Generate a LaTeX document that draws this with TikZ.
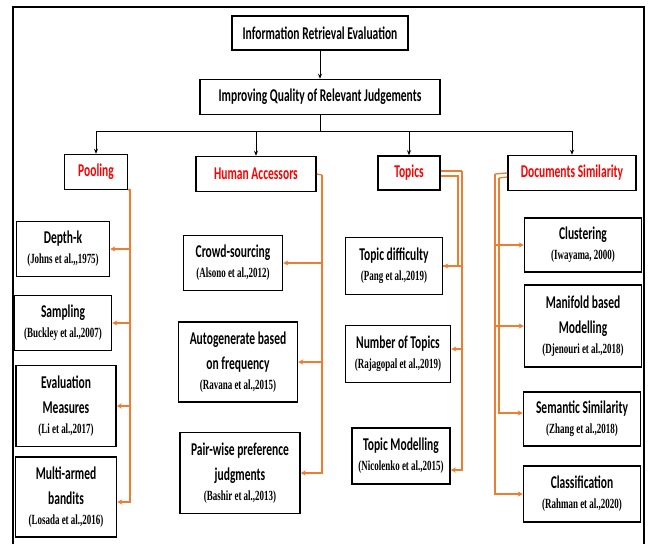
\documentclass[tikz,border=0pt]{standalone}
\usepackage{fontspec}
\setmainfont[FakeStretch=0.64]{Carlito}
\newfontfamily\srcfont[FakeStretch=0.64]{Liberation Serif}
\usetikzlibrary{arrows.meta}
\definecolor{brorange}{HTML}{ED7D31}
\definecolor{catred}{HTML}{FF0000}
\newcommand{\src}[1]{{\srcfont\bfseries\fontsize{14}{15}\selectfont #1}}

\begin{document}
\begin{tikzpicture}[x=1pt,y=-1pt,
    box/.style={draw,line width=1.5pt,align=center,inner sep=2pt,
      font=\bfseries\fontsize{18}{25}\selectfont},
    catbox/.style={box,text=catred},
    blkarrow/.style={line width=0.8pt,-{Stealth[length=5pt,width=4pt]}},
    orarrow/.style={draw=brorange,line width=1.3pt,-{Stealth[length=5pt,width=5pt]}},
    orline/.style={draw=brorange,line width=1.3pt}]
\useasboundingbox (0,0) rectangle (648,544);
\draw[line width=1.5pt] (13,544) -- (13,7) -- (644,7) -- (644,544); % frame
		\node[box,minimum width=176,minimum height=34] (ire) at (320,33) {Information Retrieval Evaluation}; % top
\node[box,minimum width=240,minimum height=35] (iqrj) at (320,97) {Improving Quality of Relevant Judgements}; % second
\node[catbox,minimum width=63,minimum height=35] (pool) at (96,172) {Pooling}; % cat.1
\node[catbox,minimum width=120,minimum height=35] (human) at (256,174) {Human Accessors}; % cat.2
\node[catbox,minimum width=62,minimum height=34] (topics) at (409,173) {Topics}; % cat.3
\node[catbox,minimum width=128,minimum height=35] (docs) at (572,173) {Documents Similarity}; % cat.4
\node[box,minimum width=93,minimum height=55] (depth) at (63,249) {Depth-k\\[-5pt]\src{(Johns et al.,,1975)}}; % pool.1
\node[box,minimum width=97,minimum height=55] (sampl) at (63,323) {Sampling\\[-5pt]\src{(Buckley et al.,2007)}}; % pool.2
\node[box,minimum width=100,minimum height=81] (evalm) at (66,406) {Evaluation\\Measures\\[-5pt]\src{(Li et al.,2017)}}; % pool.3
\node[box,minimum width=101,minimum height=80] (bandit) at (66,497) {Multi-armed\\bandits\\[-5pt]\src{(Losada et al.,2016)}}; % pool.4
\node[box,minimum width=99,minimum height=55] (crowd) at (233,263) {Crowd-sourcing\\[-5pt]\src{(Alsono et al.,2012)}}; % human.1
\node[box,minimum width=119,minimum height=80] (autogen) at (238,362) {Autogenerate based\\on frequency\\[-5pt]\src{(Ravana et al.,2015)}}; % human.2
\node[box,minimum width=120,minimum height=81] (pairw) at (240,473) {Pair-wise preference\\judgments\\[-5pt]\src{(Bashir et al.,2013)}}; % human.3
\node[box,minimum width=97,minimum height=57] (tdiff) at (394,266) {Topic difficulty\\[-5pt]\src{(Pang et al.,2019)}}; % topics.1
\node[box,minimum width=105,minimum height=57] (tnum) at (398,354) {Number of Topics\\[-5pt]\src{(Rajagopal et al.,2019)}}; % topics.2
\node[box,minimum width=98,minimum height=56] (tmod) at (401,456) {Topic Modelling\\[-5pt]\src{(Nicolenko et al.,2015)}}; % topics.3
\node[box,minimum width=117,minimum height=54] (clust) at (583,245) {Clustering\\[-5pt]\src{(Iwayama, 2000)}}; % docs.1
\node[box,minimum width=117,minimum height=82] (manif) at (583,326) {Manifold based\\Modelling\\[-5pt]\src{(Djenouri et al.,2018)}}; % docs.2
\node[box,minimum width=117,minimum height=54] (seman) at (582,419) {Semantic Similarity\\[-5pt]\src{(Zhang et al.,2018)}}; % docs.3
\node[box,minimum width=117,minimum height=56] (classif) at (582,494) {Classification\\[-5pt]\src{(Rahman et al.,2020)}}; % docs.4
\draw[blkarrow] (ire) -- (iqrj); % top.link
\coordinate (split) at (320,131); % bus
\draw[line width=0.8pt] (iqrj) -- (split); % bus
\draw[blkarrow] (split) -| (pool); % bus
\draw[blkarrow] (split) -| (human); % bus
\draw[blkarrow] (split) -| (topics); % bus
\draw[blkarrow] (split) -| (docs); % bus
\coordinate (pbend) at (130,189); % pool.trunk
\draw[orline] (pool.south east) -- (pbend); % pool.trunk
\draw[orarrow] (pbend) |- (depth.east); % pool.trunk
\draw[orarrow] (pbend) |- (sampl.east); % pool.trunk
\draw[orarrow] (pbend) |- (evalm.east); % pool.trunk
\draw[orarrow] (pbend) |- ([yshift=-5pt]bandit.east); % pool.trunk
\coordinate (hbend) at (322,175); % human.trunk
\draw[orline] (human.east) -- (hbend); % human.trunk
\draw[orarrow] (hbend) |- (crowd.east); % human.trunk
\draw[orarrow] (hbend) |- (autogen.east); % human.trunk
\draw[orarrow] (hbend) |- (pairw.east); % human.trunk
\coordinate (tbend) at (462,171); % topics.trunk
\coordinate (tbend2) at (458,176); % topics.trunk
\draw[orline] ([yshift=2pt]topics.east) -- (tbend); % topics.trunk
\draw[orline] ([yshift=-3pt]topics.east) -- (tbend2) |- (tdiff.east); % topics.trunk
\draw[orarrow] (tbend) |- (tdiff.east); % topics.trunk
\draw[orarrow] (tbend) |- ([yshift=5pt]tnum.east); % topics.trunk
\draw[orarrow] (tbend) |- ([yshift=-14pt]tmod.east); % topics.trunk
\coordinate (dbend) at (495,174); % docs.trunk
\coordinate (dbend2) at (499,178); % docs.trunk
\draw[orline] (docs.west) -- (dbend); % docs.trunk
\draw[orline] ([yshift=-4pt]docs.west) -- (dbend2); % docs.trunk
\draw[orarrow] (dbend) |- (clust.west); % docs.trunk
\draw[orarrow] (dbend) |- (manif.west); % docs.trunk
\draw[orarrow] (dbend2) |- ([yshift=6pt]seman.west); % docs.trunk
\draw[orarrow] (dbend) |- (classif.west); % docs.trunk

		\end{tikzpicture}
\end{document}
